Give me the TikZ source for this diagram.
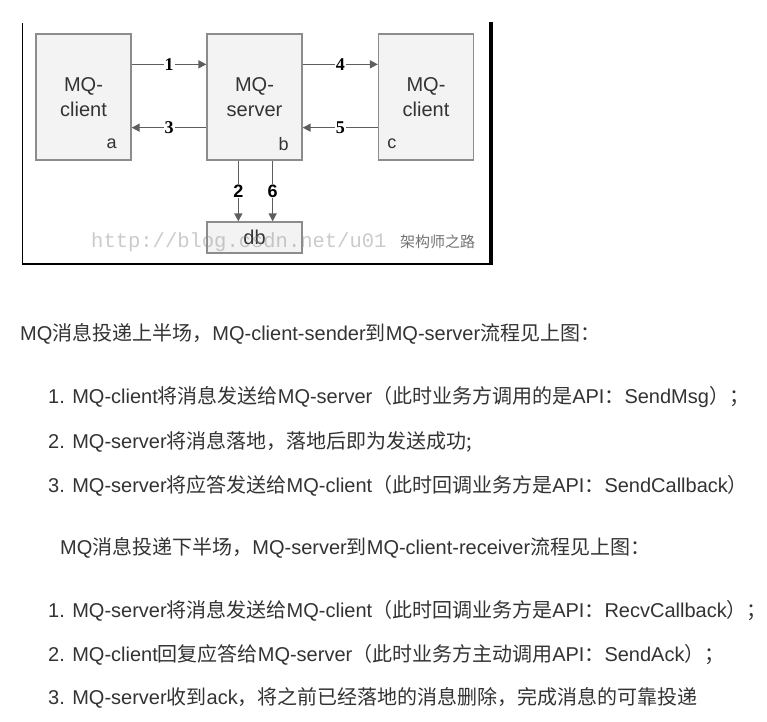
\documentclass[tikz,border=0pt]{standalone}
\usepackage{fontspec}
\setmainfont{Liberation Sans}
\newfontfamily\cjk{Noto Sans CJK SC}
\newfontfamily\serifnum{Liberation Serif}
\newfontfamily\wmfont{Liberation Mono}
\newcommand\zh[1]{{\cjk #1}}
\usetikzlibrary{arrows.meta}
\definecolor{boxfill}{HTML}{F3F3F3}
\definecolor{boxline}{HTML}{8C8C8C}
\definecolor{arrowgray}{HTML}{5E5E5E}
\definecolor{bodytext}{HTML}{333333}
\tikzset{
  box/.style={draw=boxline, fill=boxfill, line width=1.3pt, minimum width=95pt,
    minimum height=126pt, align=center, inner sep=0pt,
    font=\fontsize{20}{25}\selectfont, text=black!80},
  dbbox/.style={box, minimum height=31pt},
  arr/.style={draw=arrowgray, line width=1.4pt, -{Triangle[length=8pt,width=8pt]}},
  seriflabel/.style={fill=white, inner sep=1pt, font=\serifnum\bfseries\fontsize{18}{18}\selectfont},
  sanslabel/.style={fill=white, inner sep=1pt, font=\bfseries\fontsize{18}{18}\selectfont},
  corner/.style={font=\fontsize{18}{18}\selectfont, text=black!80},
  para/.style={anchor=west, inner sep=0pt, text=bodytext, font=\fontsize{20}{20}\selectfont}
}
\begin{document}
\begin{tikzpicture}[x=1pt, y=-1pt]
\useasboundingbox (0,0) rectangle (767,721);
\fill[white] (0,0) rectangle (767,721);

% frame round the figure
\draw[black, line width=1.5pt] (22.5,23) -- (22.5,264);
\draw[black, line width=2.5pt] (22,264) -- (493,264);
\draw[black, line width=4pt] (491,22) -- (491,265);

% boxes
\node[box] (a) at (83.5,97) {MQ-\\client};
\node[box] (b) at (254.5,97) {MQ-\\server};
\node[box] (c) at (426,97) {MQ-\\client};
\node[dbbox] (db) at (254.5,237.5) {db};

\node[corner] (la) at ([xshift=-20pt,yshift=17pt]a.south east) {a};
\node[corner] (lb) at ([xshift=-19pt,yshift=17pt]b.south east) {b};
\node[corner] (lc) at ([xshift=14pt,yshift=17pt]c.south west) {c};

% horizontal messages
\draw[arr] ([yshift=-31pt]a.north east) -- node[seriflabel] (n1) {1} ([yshift=-31pt]b.north west);
\draw[arr] ([yshift=33pt]b.south west) -- node[seriflabel] (n3) {3} ([yshift=33pt]a.south east);
\draw[arr] ([yshift=-31pt]b.north east) -- node[seriflabel] (n4) {4} ([yshift=-31pt]c.north west);
\draw[arr] ([yshift=33pt]c.south west) -- node[seriflabel] (n5) {5} ([yshift=33pt]b.south east);

% storage writes
\draw[arr] ([xshift=32pt]b.south west) -- node[sanslabel] (n2) {2} ([xshift=32pt]db.north west);
\draw[arr] ([xshift=-30pt]b.south east) -- node[sanslabel] (n6) {6} ([xshift=-30pt]db.north east);

% watermark laid over the figure
\node[anchor=west, inner sep=0pt, text=black!45, opacity=0.45, font=\wmfont\fontsize{20.5}{20.5}\selectfont] (wm) at (91,242) {http://blog.csdn.net/u01};
\node[anchor=west, inner sep=0pt, text=black!55, font=\cjk\fontsize{15}{15}\selectfont] (wm2) at (400,242) {架构师之路};

% description
\node[para] (t1) at (20,334) {MQ\zh{消息投递上半场，}MQ-client-sender\zh{到}MQ-server\zh{流程见上图：}};
\node[para] (t2) at (48,397) {1. MQ-client\zh{将消息发送给}MQ-server\zh{（此时业务方调用的是}API\zh{：}SendMsg\zh{）；}};
\node[para] (t3) at (48,442) {2. MQ-server\zh{将消息落地，落地后即为发送成功}\zh{;}};
\node[para] (t4) at (48,486) {3. MQ-server\zh{将应答发送给}MQ-client\zh{（此时回调业务方是}API\zh{：}SendCallback\zh{）}};
\node[para] (t5) at (60,548) {MQ\zh{消息投递下半场，}MQ-server\zh{到}MQ-client-receiver\zh{流程见上图：}};
\node[para] (t6) at (48,611) {1. MQ-server\zh{将消息发送给}MQ-client\zh{（此时回调业务方是}API\zh{：}RecvCallback\zh{）；}};
\node[para] (t7) at (48,655) {2. MQ-client\zh{回复应答给}MQ-server\zh{（此时业务方主动调用}API\zh{：}SendAck\zh{）；}};
\node[para] (t8) at (48,698) {3. MQ-server\zh{收到}ack\zh{，将之前已经落地的消息删除，完成消息的可靠投递}};
\end{tikzpicture}
\end{document}
